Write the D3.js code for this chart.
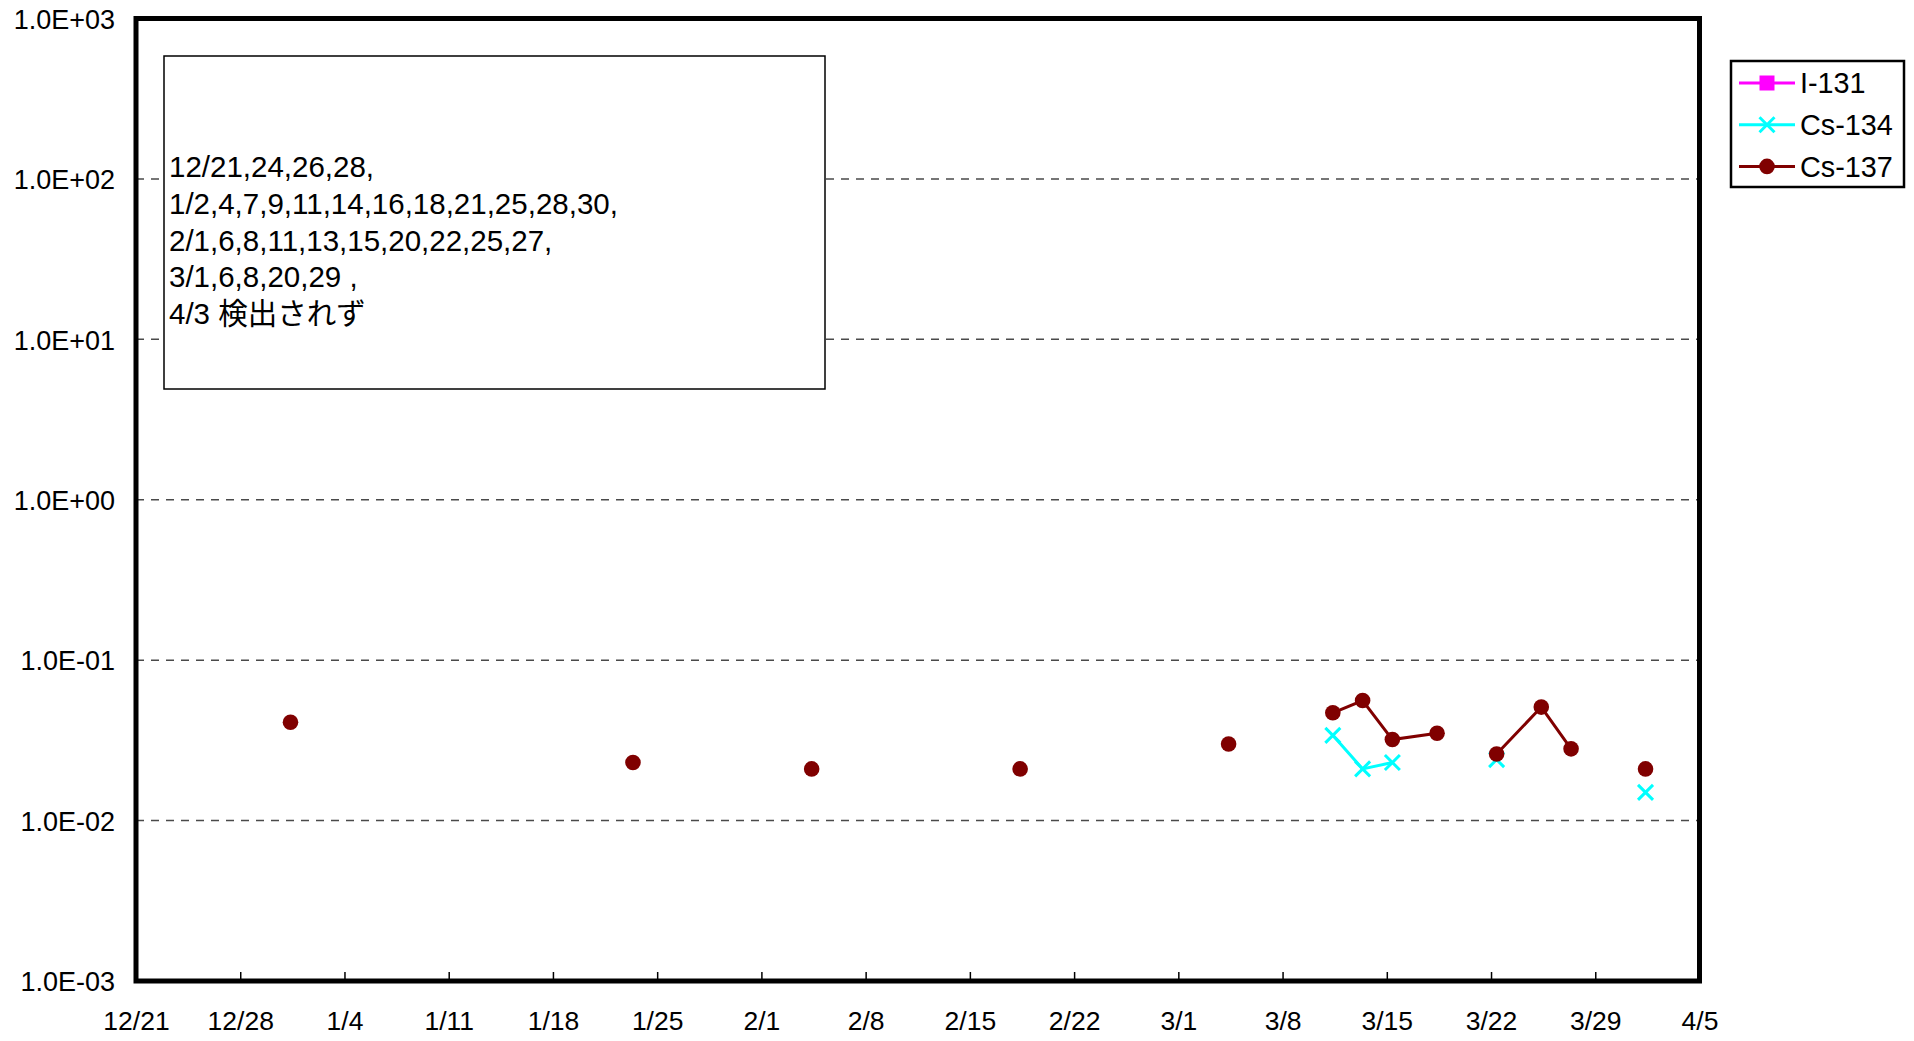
<!DOCTYPE html>
<html>
<head>
<meta charset="utf-8">
<script src="https://cdn.jsdelivr.net/npm/d3@7/dist/d3.min.js"></script>
<style>
  html, body { margin: 0; padding: 0; background: #fff; }
  svg { display: block; }
  text { font-family: "Liberation Sans", Arial, "Noto Sans CJK JP", sans-serif; fill: #000; }
</style>
</head>
<body>
<svg id="chart" width="1914" height="1041"></svg>
<script>
// ---------------- data ----------------
const year0 = 2012, year1 = 2013;
const sampleTime = "T09:00";
const sampleDates = ["12/31","1/2","1/23","1/25","2/4","2/6","2/18","2/20","3/4","3/6",
                     "3/11","3/13","3/15","3/18","3/20","3/22","3/25","3/27","3/29","4/1"];
const i131  = [null,null,null,null,null,null,null,null,null,null,
               null,null,null,null,null,null,null,null,null,null];
const cs134 = [null,null,null,null,null,null,null,null,null,null,
               0.034,0.021,0.023,null,null,0.024,null,null,null,0.015];
const cs137 = [0.041,null,0.023,null,0.021,null,0.021,null,0.030,null,
               0.047,0.056,0.032,0.035,null,0.026,0.051,0.028,null,0.021];
const seriesNames = ["I-131","Cs-134","Cs-137"];
const xTickLabels = ["12/21","12/28","1/4","1/11","1/18","1/25","2/1","2/8","2/15","2/22",
                     "3/1","3/8","3/15","3/22","3/29","4/5"];
const yTickValues = [1e-3,1e-2,1e-1,1e0,1e1,1e2,1e3];
const yTickLabels = ["1.0E-03","1.0E-02","1.0E-01","1.0E+00","1.0E+01","1.0E+02","1.0E+03"];
const noteLines = ["12/21,24,26,28,",
                   "1/2,4,7,9,11,14,16,18,21,25,28,30,",
                   "2/1,6,8,11,13,15,20,22,25,27,",
                   "3/1,6,8,20,29 ,",
                   "4/3 検出されず"];

// ---------------- helpers ----------------
function toDate(md, withTime) {
  const [m, d] = md.split("/").map(Number);
  const y = m === 12 ? year0 : year1;
  const s = `${y}-${String(m).padStart(2,"0")}-${String(d).padStart(2,"0")}` + (withTime ? sampleTime : "T00:00");
  return new Date(s + ":00Z");
}

// ---------------- layout ----------------
const svg = d3.select("#chart");
const L = 136, R = 1699.5, T = 18.5, B = 981;

const x = d3.scaleUtc()
  .domain([toDate(xTickLabels[0]), toDate(xTickLabels[xTickLabels.length-1])])
  .range([L, R]);
const y = d3.scaleLog().domain([1e-3, 1e3]).range([B, T]);

// gridlines
svg.append("g").selectAll("line")
  .data(yTickValues.slice(1, -1))
  .join("line")
  .attr("x1", L).attr("x2", R)
  .attr("y1", d => y(d)).attr("y2", d => y(d))
  .attr("stroke", "#4a4a4a").attr("stroke-width", 1.5)
  .attr("stroke-dasharray", "8,7");

// x ticks (inward) and labels
const xAxis = d3.axisBottom(x)
  .tickValues(xTickLabels.map(t => toDate(t)))
  .tickSize(0)
  .tickFormat((d, i) => xTickLabels[i]);
const gx = svg.append("g").attr("transform", `translate(0,${B})`).call(xAxis);
gx.select(".domain").remove();
gx.selectAll(".tick text")
  .attr("y", 49).attr("dy", 0)
  .attr("font-size", 26.5)
  .style("font-family", '"Liberation Sans", Arial, sans-serif')
  .attr("fill", "#000");
gx.selectAll(".tick line").remove();
gx.selectAll(".tick").append("line")
  .attr("y1", 0).attr("y2", -9)
  .attr("stroke", "#000").attr("stroke-width", 1.5);

// y labels
const yAxis = d3.axisLeft(y)
  .tickValues(yTickValues)
  .tickSize(0)
  .tickFormat((d, i) => yTickLabels[i]);
const gy = svg.append("g").attr("transform", `translate(${L},0)`).call(yAxis);
gy.select(".domain").remove();
gy.selectAll(".tick text")
  .attr("x", -21).attr("dy", "0.36em")
  .attr("font-size", 27)
  .style("font-family", '"Liberation Sans", Arial, sans-serif')
  .attr("fill", "#000");

// annotation box
const note = svg.append("g");
note.append("rect")
  .attr("x", 164).attr("y", 56).attr("width", 661).attr("height", 333)
  .attr("fill", "#fff").attr("stroke", "#000").attr("stroke-width", 1.5);
note.selectAll("text").data(noteLines).join("text")
  .attr("x", 169)
  .attr("y", (d, i) => 177 + i * 36.8)
  .attr("font-size", 29.5)
  .text(d => d);

// plot frame
svg.append("rect")
  .attr("x", L).attr("y", T).attr("width", R - L).attr("height", B - T)
  .attr("fill", "none").attr("stroke", "#000").attr("stroke-width", 5);

// ---------------- series ----------------
const colors = { "I-131": "#ff00ff", "Cs-134": "#00ffff", "Cs-137": "#800000" };
const seriesVals = { "I-131": i131, "Cs-134": cs134, "Cs-137": cs137 };

function drawMarker(g, name, cx, cy) {
  const c = colors[name];
  if (name === "I-131") {
    g.append("rect").attr("x", cx - 7.5).attr("y", cy - 7.5)
      .attr("width", 15).attr("height", 15).attr("fill", c);
  } else if (name === "Cs-134") {
    const s = 7.5;
    g.append("path")
      .attr("d", `M${cx-s},${cy-s}L${cx+s},${cy+s}M${cx-s},${cy+s}L${cx+s},${cy-s}`)
      .attr("stroke", c).attr("stroke-width", 3).attr("fill", "none");
  } else {
    g.append("circle").attr("cx", cx).attr("cy", cy).attr("r", 7.8).attr("fill", c);
  }
}

const plotG = svg.append("g");
seriesNames.forEach(name => {
  const pts = sampleDates.map((d, i) => ({ date: toDate(d, true), v: seriesVals[name][i] }));
  const line = d3.line()
    .defined(p => p.v != null)
    .x(p => x(p.date)).y(p => y(p.v));
  const g = plotG.append("g");
  g.append("path").datum(pts)
    .attr("d", line)
    .attr("fill", "none").attr("stroke", colors[name]).attr("stroke-width", 3);
  pts.filter(p => p.v != null).forEach(p => drawMarker(g, name, x(p.date), y(p.v)));
});

// ---------------- legend ----------------
const lg = svg.append("g");
lg.append("rect").attr("x", 1731).attr("y", 61).attr("width", 173).attr("height", 126)
  .attr("fill", "#fff").attr("stroke", "#000").attr("stroke-width", 2.5);
seriesNames.forEach((name, i) => {
  const cy = 83 + i * 41.7;
  lg.append("line").attr("x1", 1739).attr("x2", 1795).attr("y1", cy).attr("y2", cy)
    .attr("stroke", colors[name]).attr("stroke-width", 3);
  drawMarker(lg, name, 1767, cy);
  lg.append("text").attr("x", 1800).attr("y", cy).attr("dy", "0.36em")
    .attr("font-size", 28.8).text(name);
});
</script>
</body>
</html>
